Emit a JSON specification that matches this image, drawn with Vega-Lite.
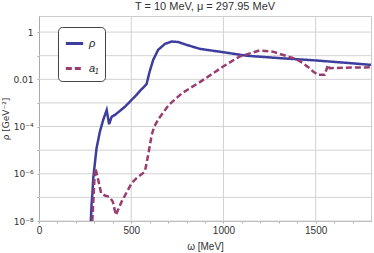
{
  "$schema": "https://vega.github.io/schema/vega-lite/v6.json",
  "width": 332,
  "height": 205,
  "autosize": "none",
  "padding": {"left": 39, "top": 16, "right": 3, "bottom": 32},
  "background": "white",
  "config": {
    "font": "Liberation Sans",
    "view": {"stroke": "#cccccc", "strokeWidth": 1},
    "axis": {"labelFont": "Liberation Sans", "titleFont": "Liberation Sans", "labelColor": "#333", "titleColor": "#333", "domainColor": "#aaaaaa", "tickColor": "#aaaaaa", "grid": false, "labelFontSize": 10, "titleFontSize": 10, "titleFontWeight": "normal", "labelFlush": false}
  },
  "title": {"text": "T = 10 MeV, μ = 297.95 MeV", "fontSize": 11, "fontWeight": "normal", "color": "#333", "font": "Liberation Sans", "offset": 4},
  "datasets": {
    "gridY": [{"g": 1e-8}, {"g": 1e-7}, {"g": 1e-6}, {"g": 1e-5}, {"g": 1e-4}, {"g": 1e-3}, {"g": 1e-2}, {"g": 1e-1}, {"g": 1}],
    "gridX": [{"g": 500}, {"g": 1000}, {"g": 1500}],
    "curves": [
    {"w": 281, "v": 1e-8, "s": "ρ"},
    {"w": 285, "v": 5.0e-8, "s": "ρ"},
    {"w": 289, "v": 1.26e-7, "s": "ρ"},
    {"w": 294, "v": 6.3e-7, "s": "ρ"},
    {"w": 300, "v": 1.7e-6, "s": "ρ"},
    {"w": 312, "v": 1.2e-5, "s": "ρ"},
    {"w": 330, "v": 6.0e-5, "s": "ρ"},
    {"w": 348, "v": 1.9e-4, "s": "ρ"},
    {"w": 367, "v": 5.0e-4, "s": "ρ"},
    {"w": 380, "v": 1.26e-4, "s": "ρ"},
    {"w": 394, "v": 2.6e-4, "s": "ρ"},
    {"w": 412, "v": 3.1e-4, "s": "ρ"},
    {"w": 466, "v": 6.9e-4, "s": "ρ"},
    {"w": 529, "v": 2.2e-3, "s": "ρ"},
    {"w": 547, "v": 3.2e-3, "s": "ρ"},
    {"w": 583, "v": 6.2e-3, "s": "ρ"},
    {"w": 600, "v": 0.0214, "s": "ρ"},
    {"w": 619, "v": 0.066, "s": "ρ"},
    {"w": 646, "v": 0.178, "s": "ρ"},
    {"w": 683, "v": 0.316, "s": "ρ"},
    {"w": 719, "v": 0.398, "s": "ρ"},
    {"w": 755, "v": 0.38, "s": "ρ"},
    {"w": 800, "v": 0.288, "s": "ρ"},
    {"w": 872, "v": 0.195, "s": "ρ"},
    {"w": 998, "v": 0.141, "s": "ρ"},
    {"w": 1124, "v": 0.1, "s": "ρ"},
    {"w": 1303, "v": 0.079, "s": "ρ"},
    {"w": 1500, "v": 0.063, "s": "ρ"},
    {"w": 1650, "v": 0.051, "s": "ρ"},
    {"w": 1800, "v": 0.041, "s": "ρ"},
    {"w": 289, "v": 1e-8, "s": "a₁"},
    {"w": 300, "v": 4.7e-7, "s": "a₁"},
    {"w": 306, "v": 1.7e-6, "s": "a₁"},
    {"w": 319, "v": 6.5e-7, "s": "a₁"},
    {"w": 337, "v": 1.5e-7, "s": "a₁"},
    {"w": 360, "v": 1.17e-7, "s": "a₁"},
    {"w": 382, "v": 1.07e-7, "s": "a₁"},
    {"w": 400, "v": 6.6e-8, "s": "a₁"},
    {"w": 417, "v": 1.8e-8, "s": "a₁"},
    {"w": 448, "v": 6.6e-8, "s": "a₁"},
    {"w": 502, "v": 4.0e-7, "s": "a₁"},
    {"w": 529, "v": 6.5e-7, "s": "a₁"},
    {"w": 574, "v": 1.23e-6, "s": "a₁"},
    {"w": 592, "v": 6.3e-6, "s": "a₁"},
    {"w": 611, "v": 4.4e-5, "s": "a₁"},
    {"w": 625, "v": 1e-4, "s": "a₁"},
    {"w": 650, "v": 2.2e-4, "s": "a₁"},
    {"w": 704, "v": 8.3e-4, "s": "a₁"},
    {"w": 776, "v": 2.6e-3, "s": "a₁"},
    {"w": 872, "v": 7.6e-3, "s": "a₁"},
    {"w": 998, "v": 0.0347, "s": "a₁"},
    {"w": 1086, "v": 0.091, "s": "a₁"},
    {"w": 1195, "v": 0.166, "s": "a₁"},
    {"w": 1268, "v": 0.148, "s": "a₁"},
    {"w": 1396, "v": 0.0708, "s": "a₁"},
    {"w": 1432, "v": 0.0479, "s": "a₁"},
    {"w": 1470, "v": 0.0282, "s": "a₁"},
    {"w": 1486, "v": 0.0214, "s": "a₁"},
    {"w": 1513, "v": 0.0155, "s": "a₁"},
    {"w": 1549, "v": 0.0155, "s": "a₁"},
    {"w": 1567, "v": 0.0407, "s": "a₁"},
    {"w": 1576, "v": 0.0295, "s": "a₁"},
    {"w": 1650, "v": 0.0309, "s": "a₁"},
    {"w": 1800, "v": 0.0324, "s": "a₁"}
  ]},
  "encoding": {
    "x": {"type": "quantitative",
      "scale": {"domain": [0, 1800], "nice": false},
      "axis": {"title": "ω [MeV]", "titlePadding": 6, "format": "d",
        "values": [0,100,200,300,400,500,600,700,800,900,1000,1100,1200,1300,1400,1500,1600,1700],
        "labelExpr": "datum.value % 500 == 0 ? datum.label : ''",
        "labelPadding": 2, "tickSize": 2}},
    "y": {"type": "quantitative",
      "scale": {"type": "log", "domain": [1e-8, 4.8], "nice": false},
      "axis": {"title": "ρ [GeV⁻²]", "titlePadding": 2, "titleFont": "DejaVu Sans", "titleFontSize": 9,
        "labelFont": "DejaVu Sans", "labelFontSize": 9,
        "values": [1e-8,1e-7,1e-6,1e-5,1e-4,1e-3,1e-2,1e-1,1],
        "labelExpr": "round(log(datum.value)/LN10) == 0 ? '1' : round(log(datum.value)/LN10) == -2 ? '0.01' : round(log(datum.value)/LN10) == -4 ? '10⁻⁴' : round(log(datum.value)/LN10) == -6 ? '10⁻⁶' : round(log(datum.value)/LN10) == -8 ? '10⁻⁸' : ''",
        "tickSize": 2, "labelPadding": 4}}
  },
  "layer": [
    {
      "data": {"name": "gridY"},
      "mark": {"type": "rule", "color": "#d2d2d2", "strokeWidth": 1},
      "encoding": {"y": {"field": "g", "type": "quantitative"}}
    },
    {
      "data": {"name": "gridX"},
      "mark": {"type": "rule", "color": "#d2d2d2", "strokeWidth": 1},
      "encoding": {"x": {"field": "g", "type": "quantitative"}}
    },
    {
      "data": {"name": "curves"},
      "mark": {"type": "line", "strokeWidth": 2.5, "clip": true},
      "encoding": {
        "x": {"field": "w", "type": "quantitative"},
        "y": {"field": "v", "type": "quantitative"},
        "color": {"field": "s", "type": "nominal",
          "scale": {"domain": ["ρ", "a₁"], "range": ["#3d3d9e", "#993d71"]},
          "legend": {"title": null, "orient": "none", "legendX": 19, "legendY": 11,
            "symbolType": "stroke", "symbolSize": 300, "symbolStrokeWidth": 3,
            "labelFontSize": 11, "labelFontStyle": "italic", "labelFont": "Liberation Sans", "labelColor": "#222",
            "strokeColor": "#444", "fillColor": "white", "cornerRadius": 4, "padding": 6, "rowPadding": 8}},
        "strokeDash": {"field": "s", "type": "nominal",
          "scale": {"domain": ["ρ", "a₁"], "range": [[1, 0], [6, 3]]},
          "legend": null}
      }
    }
  ]
}
